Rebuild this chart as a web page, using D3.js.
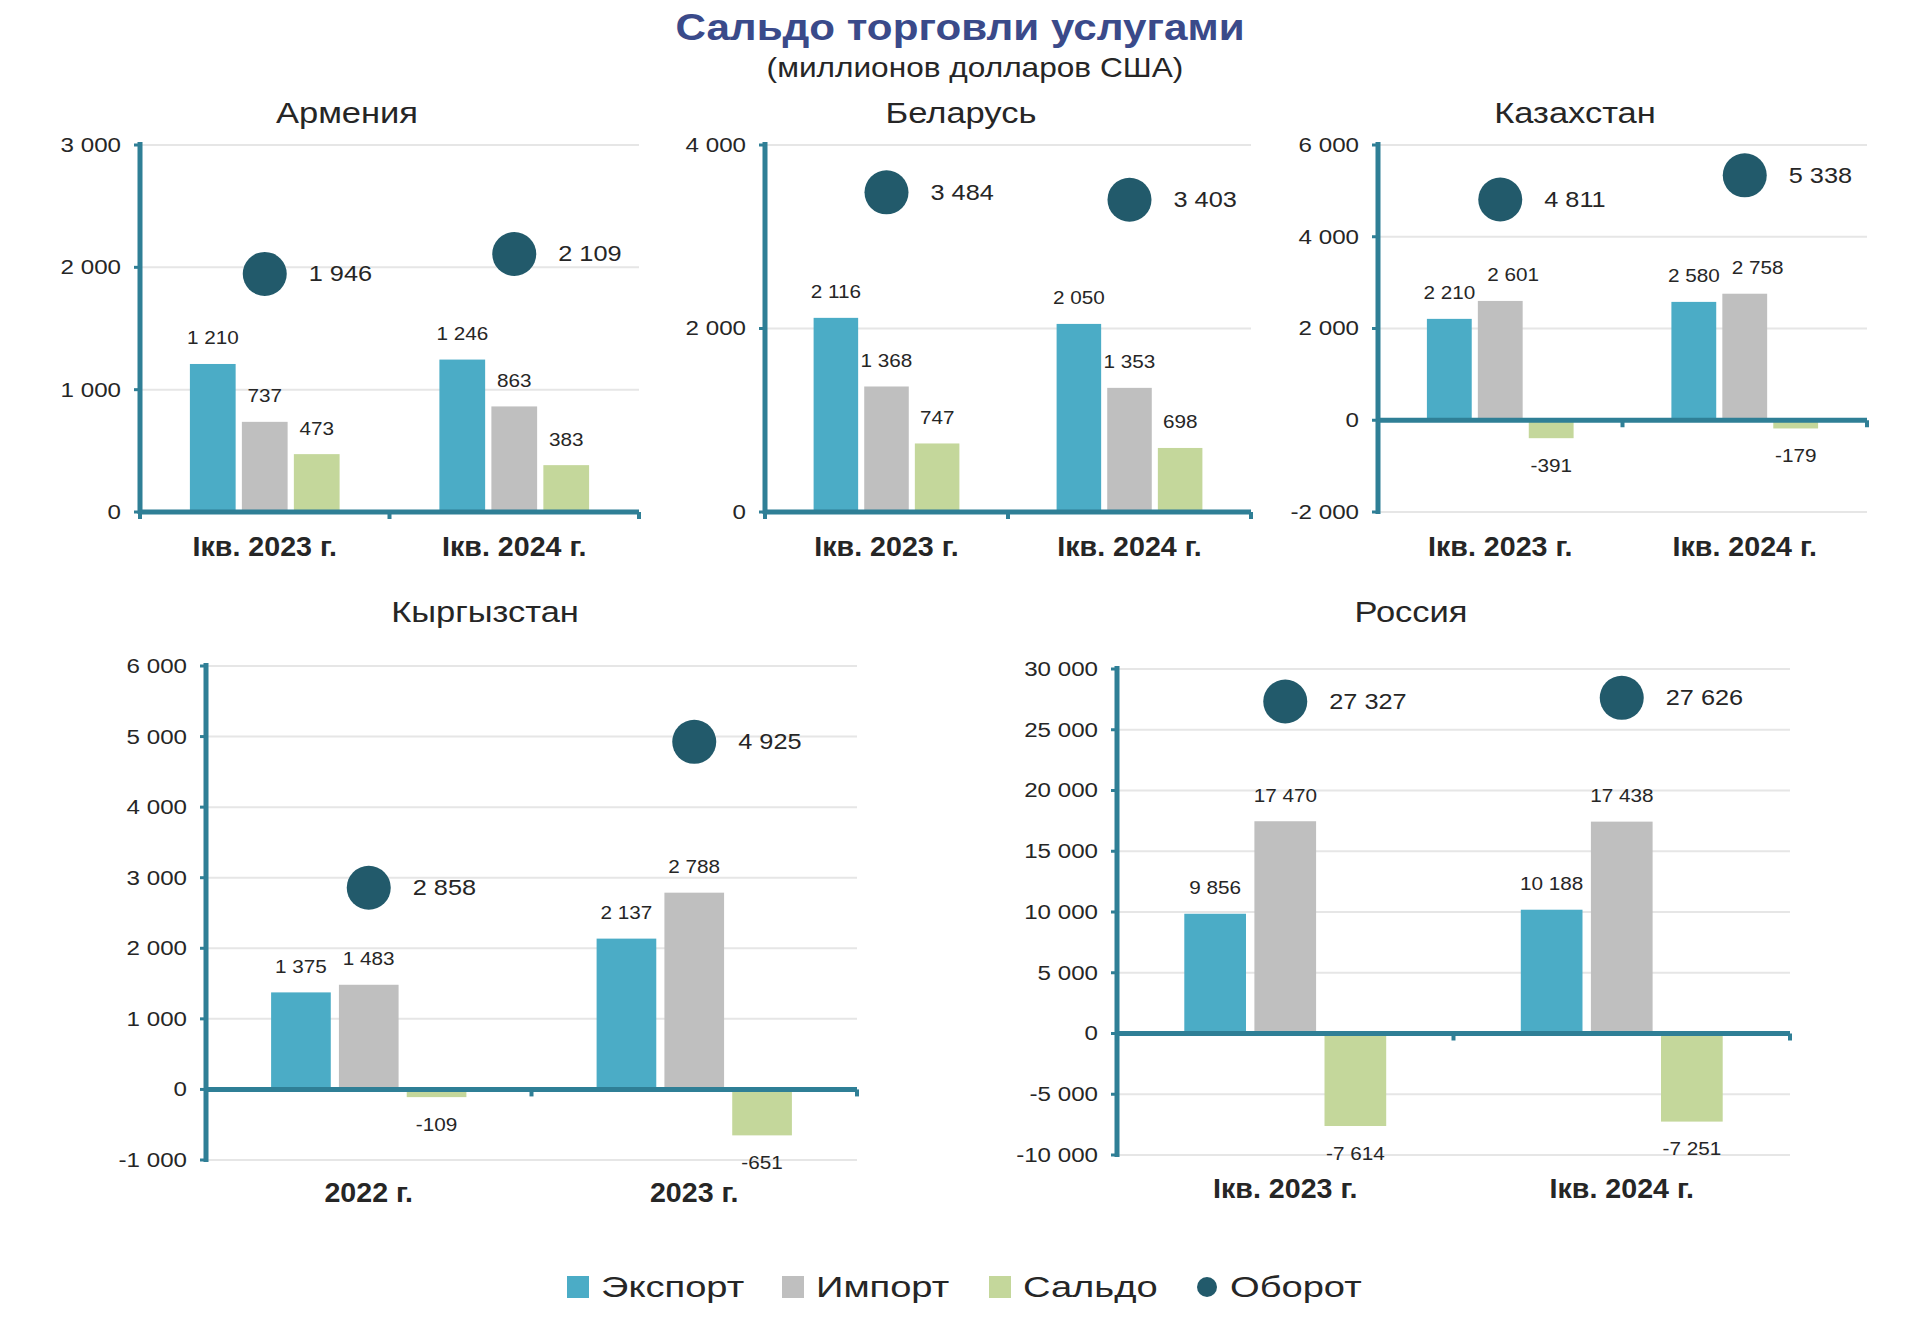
<!DOCTYPE html>
<html>
<head>
<meta charset="utf-8">
<script src="https://cdn.jsdelivr.net/npm/d3@7"></script>
<style>
  html, body { margin: 0; padding: 0; background: #fff; }
  svg { display: block; font-family: "Liberation Sans", Arial, sans-serif; }
</style>
</head>
<body>
<svg id="chart" width="1920" height="1322"></svg>
<script>
// ---------- DATA ----------
const seriesNames = ["Экспорт", "Импорт", "Сальдо"];
const turnoverName = "Оборот";
const quarterCategories = ["Iкв. 2023 г.", "Iкв. 2024 г."];
const yearCategories = ["2022 г.", "2023 г."];

const armeniaExport = [1210, 1246];
const armeniaImport = [737, 863];
const armeniaSaldo = [473, 383];
const armeniaTurnover = [1946, 2109];
const armeniaTicks = [0, 1000, 2000, 3000];

const belarusExport = [2116, 2050];
const belarusImport = [1368, 1353];
const belarusSaldo = [747, 698];
const belarusTurnover = [3484, 3403];
const belarusTicks = [0, 2000, 4000];

const kazakhstanExport = [2210, 2580];
const kazakhstanImport = [2601, 2758];
const kazakhstanSaldo = [-391, -179];
const kazakhstanTurnover = [4811, 5338];
const kazakhstanTicks = [-2000, 0, 2000, 4000, 6000];

const kyrgyzstanExport = [1375, 2137];
const kyrgyzstanImport = [1483, 2788];
const kyrgyzstanSaldo = [-109, -651];
const kyrgyzstanTurnover = [2858, 4925];
const kyrgyzstanTicks = [-1000, 0, 1000, 2000, 3000, 4000, 5000, 6000];

const russiaExport = [9856, 10188];
const russiaImport = [17470, 17438];
const russiaSaldo = [-7614, -7251];
const russiaTurnover = [27327, 27626];
const russiaTicks = [-10000, -5000, 0, 5000, 10000, 15000, 20000, 25000, 30000];

// ---------- STYLE ----------
const colors = { "Экспорт": "#4bacc6", "Импорт": "#bfbfbf", "Сальдо": "#c4d79b", "Оборот": "#225a6b" };
const axisColor = "#2f7f96";
const gridColor = "#e6e6e6";
const textColor = "#262626";
const SX = 1.15;

const loc = d3.formatLocale({ decimal: ".", thousands: " ", grouping: [3], currency: ["", ""], minus: "-" });
const fmt = loc.format(",");

const svg = d3.select("#chart");
svg.append("rect").attr("width", 1920).attr("height", 1322).attr("fill", "#fff");

function label(g, x, y, s, size, opts = {}) {
  return g.append("text")
    .attr("transform", `translate(${x},${y}) scale(${opts.sx ?? SX},1)`)
    .attr("text-anchor", opts.anchor || "middle")
    .attr("dominant-baseline", "central")
    .style("font-size", size + "px")
    .style("font-weight", opts.bold ? "bold" : "normal")
    .style("fill", opts.fill || textColor)
    .text(s);
}

// ---------- TITLE ----------
label(svg, 960, 27, "Сальдо торговли услугами", 37, { bold: true, fill: "#3a4a8a", sx: 1.14 });
label(svg, 975, 67, "(миллионов долларов США)", 28, { sx: 1.13 });

// ---------- PANELS ----------
function drawPanel(cfg) {
  const g = svg.append("g");
  const values = { "Экспорт": cfg.exp, "Импорт": cfg.imp, "Сальдо": cfg.sal };
  const y = d3.scaleLinear().domain([cfg.ticks[0], cfg.ticks[cfg.ticks.length - 1]]).range([cfg.yBot, cfg.yTop]);
  const xb = d3.scaleBand().domain(cfg.cats).range([cfg.x0, cfg.x1]).paddingInner(0.4).paddingOuter(0.2);
  const xs = d3.scaleBand().domain(seriesNames).range([0, xb.bandwidth()]).paddingInner(0.12).paddingOuter(0);

  label(g, cfg.titleX, cfg.titleY, cfg.name, 30);

  g.selectAll("line.grid").data(cfg.ticks).join("line")
    .attr("class", "grid")
    .attr("x1", cfg.x0).attr("x2", cfg.x1)
    .attr("y1", d => y(d)).attr("y2", d => y(d))
    .attr("stroke", gridColor).attr("stroke-width", 2);

  cfg.ticks.forEach(t => label(g, cfg.x0 - 19, y(t), fmt(t), 21, { anchor: "end" }));

  cfg.cats.forEach((c, i) => {
    const placed = [];
    seriesNames.forEach(s => {
      const v = values[s][i];
      const bx = xb(c) + xs(s);
      const y0 = y(0), yv = y(v);
      g.append("rect")
        .attr("x", bx).attr("width", xs.bandwidth())
        .attr("y", Math.min(y0, yv)).attr("height", Math.abs(yv - y0))
        .attr("fill", colors[s]);
      const ly = v >= 0 ? yv - 26 : yv + 27;
      let lx = bx + xs.bandwidth() / 2;
      const t = label(g, lx, ly, fmt(v), 18);
      const w = t.node().getBBox().width * SX;
      // nudge right if colliding with previous label
      placed.forEach(p => {
        if (Math.abs(p.y - ly) < 22) {
          const gap = (lx - w / 2) - (p.x + p.w / 2);
          if (gap < 12) lx += 12 - gap;
        }
      });
      t.attr("transform", `translate(${lx},${ly}) scale(${SX},1)`);
      placed.push({ x: lx, y: ly, w });
    });
  });

  const y0 = y(0);
  g.append("line").attr("x1", cfg.x0).attr("x2", cfg.x0)
    .attr("y1", cfg.yTop - 3).attr("y2", cfg.yBot + 2)
    .attr("stroke", axisColor).attr("stroke-width", 5);
  cfg.ticks.forEach(t => g.append("line")
    .attr("x1", cfg.x0 - 6).attr("x2", cfg.x0).attr("y1", y(t)).attr("y2", y(t))
    .attr("stroke", axisColor).attr("stroke-width", 3));
  g.append("line").attr("x1", cfg.x0).attr("x2", cfg.x1)
    .attr("y1", y0).attr("y2", y0)
    .attr("stroke", axisColor).attr("stroke-width", 5);
  [cfg.x0, (cfg.x0 + cfg.x1) / 2, cfg.x1].forEach(xx => g.append("line")
    .attr("x1", xx).attr("x2", xx).attr("y1", y0).attr("y2", y0 + 7)
    .attr("stroke", axisColor).attr("stroke-width", 4));

  cfg.cats.forEach((c, i) => {
    const cx = xb(c) + xb.bandwidth() / 2;
    const cy = y(cfg.turn[i]);
    g.append("circle").attr("cx", cx).attr("cy", cy).attr("r", 22).attr("fill", colors["Оборот"]);
    label(g, cx + 44, cy, fmt(cfg.turn[i]), 22, { anchor: "start" });
  });

  cfg.cats.forEach(c => label(g, xb(c) + xb.bandwidth() / 2, cfg.catY, c, 27, { bold: true, sx: 1.06 }));
}

drawPanel({ name: "Армения", cats: quarterCategories, exp: armeniaExport, imp: armeniaImport, sal: armeniaSaldo, turn: armeniaTurnover, ticks: armeniaTicks,
  x0: 140, x1: 639, yTop: 145, yBot: 512, titleX: 347, titleY: 113, catY: 547 });
drawPanel({ name: "Беларусь", cats: quarterCategories, exp: belarusExport, imp: belarusImport, sal: belarusSaldo, turn: belarusTurnover, ticks: belarusTicks,
  x0: 765, x1: 1251, yTop: 145, yBot: 512, titleX: 961, titleY: 113, catY: 547 });
drawPanel({ name: "Казахстан", cats: quarterCategories, exp: kazakhstanExport, imp: kazakhstanImport, sal: kazakhstanSaldo, turn: kazakhstanTurnover, ticks: kazakhstanTicks,
  x0: 1378, x1: 1867, yTop: 145, yBot: 512, titleX: 1575, titleY: 113, catY: 547 });
drawPanel({ name: "Кыргызстан", cats: yearCategories, exp: kyrgyzstanExport, imp: kyrgyzstanImport, sal: kyrgyzstanSaldo, turn: kyrgyzstanTurnover, ticks: kyrgyzstanTicks,
  x0: 206, x1: 857, yTop: 666, yBot: 1160, titleX: 485, titleY: 612, catY: 1193 });
drawPanel({ name: "Россия", cats: quarterCategories, exp: russiaExport, imp: russiaImport, sal: russiaSaldo, turn: russiaTurnover, ticks: russiaTicks,
  x0: 1117, x1: 1790, yTop: 669, yBot: 1155, titleX: 1411, titleY: 612, catY: 1189 });

// ---------- LEGEND ----------
const legendItems = seriesNames.concat([turnoverName]);
const legendX = [567, 782, 989, 1196];
const legend = svg.append("g");
legendItems.forEach((name, i) => {
  const lx = legendX[i], ly = 1287;
  if (name === turnoverName) {
    legend.append("circle").attr("cx", lx + 11).attr("cy", ly).attr("r", 10).attr("fill", colors[name]);
  } else {
    legend.append("rect").attr("x", lx).attr("y", ly - 11).attr("width", 22).attr("height", 22).attr("fill", colors[name]);
  }
  label(legend, lx + 34, ly, name, 30, { anchor: "start", sx: 1.27 });
});
</script>
</body>
</html>
